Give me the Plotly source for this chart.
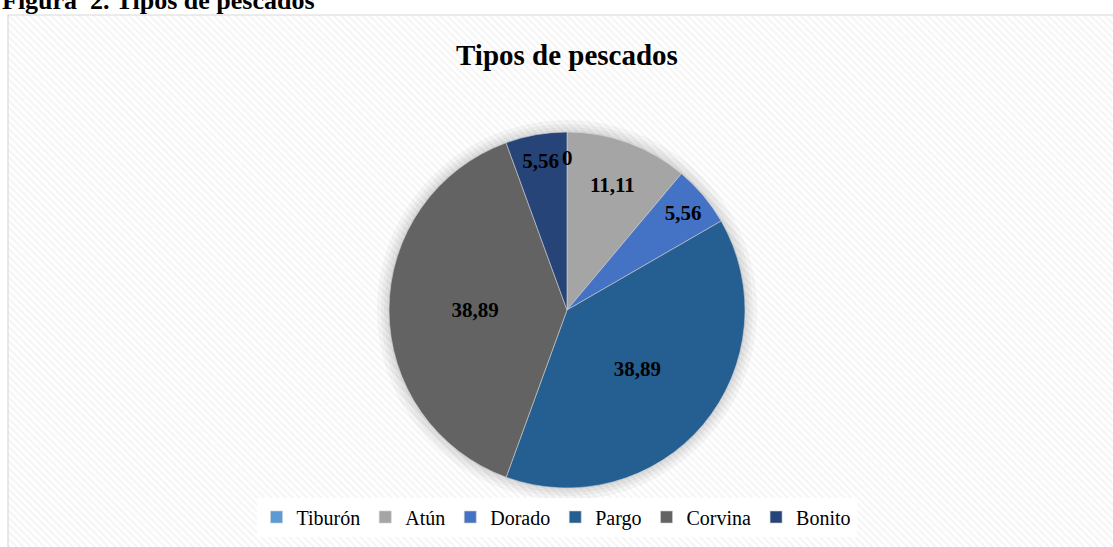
import plotly.graph_objects as go

categories = ["Tiburón", "Atún", "Dorado", "Pargo", "Corvina", "Bonito"]
values = [0, 11.11, 5.56, 38.89, 38.89, 5.56]
colors = ["#5B9BD5", "#A5A5A5", "#4472C4", "#255E91", "#636363", "#264478"]
chart_title = "Tipos de pescados"
caption = "Figura  2. Tipos de pescados"

W, H = 1113, 547
FONT = "Liberation Serif, Times New Roman, serif"

fig = go.Figure()

# hatched chart-area background
fig.add_trace(go.Scatter(
    x=[0, 1, 1, 0, 0], y=[0, 0, 1, 1, 0], mode="lines", fill="toself",
    line=dict(width=0), fillcolor="white",
    fillpattern=dict(shape="\\", fgcolor="#ebebeb", bgcolor="white", size=5, solidity=0.45),
    hoverinfo="skip", showlegend=False, xaxis="x", yaxis="y"))

# pie position
cx, cy, r = 567, 310, 178
def dom(rr):
    return dict(x=[(cx - rr) / W, (cx + rr) / W], y=[(H - cy - rr) / H, (H - cy + rr) / H])

# soft shadow layers
for rr in [r + 12, r + 8, r + 5, r + 2]:
    fig.add_trace(go.Pie(values=[1], labels=["s"], marker=dict(colors=["rgba(0,0,0,0.035)"]),
                         textinfo="none", hoverinfo="skip", showlegend=False, sort=False,
                         domain=dom(rr)))

fig.add_trace(go.Pie(
    labels=categories, values=values, sort=False, direction="clockwise", rotation=0,
    marker=dict(colors=colors, line=dict(color="#d0d0d0", width=0.6)),
    texttemplate="%{value}", textposition="inside", insidetextorientation="horizontal",
    textfont=dict(family=FONT, size=21, color="black", weight="bold"),
    domain=dom(r), showlegend=True))

annotations = [
    dict(text="<b>" + chart_title + "</b>", x=cx / W, y=(H - 55) / H, xref="paper", yref="paper",
         xanchor="center", yanchor="middle", showarrow=False,
         font=dict(family=FONT, size=29, color="black")),
    dict(text="<b>" + caption + "</b>", x=0, y=(H - 17) / H, xref="paper", yref="paper",
         xanchor="left", yanchor="bottom", showarrow=False,
         font=dict(family=FONT, size=26, color="black")),
]
# label for the zero-valued slice (plotly does not draw empty slices)
for lab, v in zip(categories, values):
    if v == 0:
        annotations.append(dict(text="<b>" + str(v) + "</b>", x=cx / W, y=(H - cy + r - 26) / H,
                                xref="paper", yref="paper", xanchor="center", yanchor="middle",
                                showarrow=False, font=dict(family=FONT, size=21, color="black")))

fig.update_layout(
    width=W, height=H, margin=dict(l=0, r=0, t=0, b=0, autoexpand=False),
    paper_bgcolor="white", plot_bgcolor="white", separators=",.",
    xaxis=dict(domain=[8 / W, 1], range=[0, 1], visible=False, fixedrange=True),
    yaxis=dict(domain=[0, (H - 15) / H], range=[0, 1], visible=False, fixedrange=True),
    legend=dict(orientation="h", x=0.5, xanchor="center", y=(H - 517) / H, yanchor="middle",
                bgcolor="white", font=dict(family=FONT, size=20, color="black"),
                traceorder="normal", itemwidth=30),
    shapes=[dict(type="rect", xref="paper", yref="paper", x0=8 / W, x1=1.01, y0=-0.01,
                 y1=(H - 15) / H, line=dict(color="#d9d9d9", width=1.2), layer="above")],
    annotations=annotations,
)

fig.write_html("out.html", config={"displayModeBar": False},
               post_script="document.body.style.margin='0';document.body.style.overflow='hidden';")
